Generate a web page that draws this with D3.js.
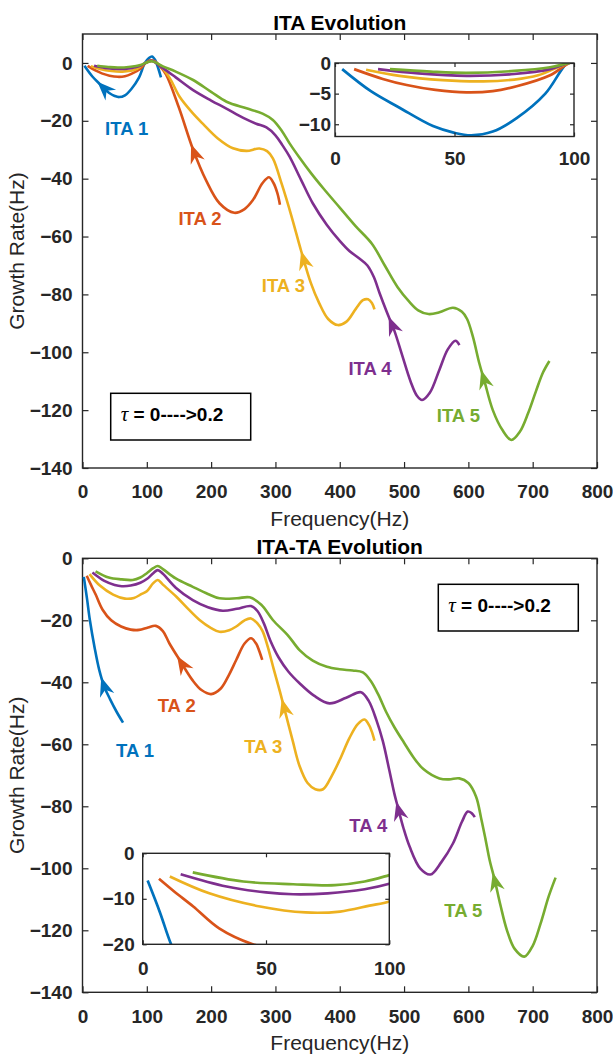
<!DOCTYPE html>
<html>
<head>
<meta charset="utf-8">
<script src="https://cdn.jsdelivr.net/npm/d3@7/dist/d3.min.js"></script>
<style>
body { margin: 0; background: #fff; }
svg { display: block; font-family: "Liberation Sans", Arial, Helvetica, sans-serif; }
</style>
</head>
<body>
<div id="chart"></div>
<script>
// MATLAB default line colours
var colors = ["#0072BD", "#D95319", "#EDB120", "#7E2F8E", "#77AC30"];

var freqTicks = [0, 100, 200, 300, 400, 500, 600, 700, 800];
var rateTicks = [0, -20, -40, -60, -80, -100, -120, -140];
var insetFreqTicks = [0, 50, 100];
var itaInsetTicks = [0, -5, -10];
var taInsetTicks = [0, -10, -20];

var itaNames = ["ITA 1", "ITA 2", "ITA 3", "ITA 4", "ITA 5"];
var taNames = ["TA 1", "TA 2", "TA 3", "TA 4", "TA 5"];
var tauText = " = 0---->0.2";

// frequency where each arrow head sits
var itaArrowX = [23, 169, 340, 476, 620];
var taArrowX = [29, 147, 310, 488, 638];

// ITA evolution, [frequency, growth rate]
var ita1 = [[3,-1],[15,-4.6],[27,-7.3],[41,-10.3],[50,-11.4],[57,-11.8],[66,-11.2],[76,-9],[88,-5],[97,0],[103,1.6],[108,2.2],[113,1],[118,-2],[122,-5]];
var ita2 = [[8,-1],[20,-2.6],[30,-3.6],[42,-4.4],[55,-4.8],[66,-4.6],[76,-3.8],[90,-2],[98,0],[106,0.9],[112,0.6],[120,-1],[130,-4],[150,-15.5],[172,-30],[192,-40.5],[213,-48.5],[236,-51.8],[252,-50.5],[265,-47.4],[280,-41.5],[290,-39.5],[297,-41.5],[303,-45],[307,-49]];
var ita3 = [[13,-1.1],[27,-2.1],[45,-2.8],[62,-3],[75,-2.7],[85,-2],[98,0],[108,0.7],[120,-0.8],[135,-5],[151,-11.7],[170,-17],[187,-21],[210,-26],[234,-29.5],[255,-30.4],[275,-29.6],[287,-30.5],[296,-33],[310,-42],[325,-53],[340,-65],[355,-76],[368,-83],[382,-88.5],[397,-90.6],[410,-89.5],[425,-85],[436,-82],[444,-81.7],[450,-83],[454,-85.2]];
var ita4 = [[18,-1],[35,-1.7],[55,-2.1],[75,-1.8],[90,-1],[98,0],[108,0.7],[125,-1.8],[145,-5],[172,-9.4],[200,-13],[223,-15.7],[250,-19],[270,-21],[286,-22.3],[300,-25],[311,-28.5],[322,-32.4],[340,-40.5],[358,-48.5],[380,-56],[400,-61.5],[415,-65],[430,-67.5],[443,-70],[453,-74],[462,-79.6],[473,-86],[485,-92.6],[497,-101],[510,-110],[520,-115],[528,-116.5],[540,-114],[555,-106],[568,-99],[580,-96],[586,-97.5]];
var ita5 = [[23,-1],[40,-1.4],[55,-1.6],[75,-1.3],[90,-0.7],[98,0],[108,0.6],[125,-1.2],[145,-3],[172,-5.9],[200,-10],[224,-13.4],[255,-15.7],[280,-17.5],[296,-19.7],[310,-23.5],[322,-27.8],[337,-32.6],[355,-38],[375,-43.5],[400,-50],[425,-56.5],[450,-62.5],[470,-70],[490,-77.5],[508,-82.5],[522,-85.5],[538,-86.8],[555,-86.2],[576,-84.6],[590,-86],[598,-88.5],[607,-94.6],[617,-103.8],[625,-110],[638,-120],[653,-126.9],[667,-130.3],[680,-127.5],[693,-121],[705,-113.5],[716,-107],[726,-103]];

// ITA-TA evolution, [frequency, growth rate]
var ta1 = [[2,-6],[7,-13],[11.5,-20],[19,-29],[26,-36],[34,-41.5],[43,-45.5],[53,-49.5],[63,-53]];
var ta2 = [[6.6,-5.6],[13,-8.5],[20.5,-11.7],[31,-16.5],[44.6,-20],[60,-22],[75,-23],[88,-23.1],[102,-22.3],[114,-21.8],[125,-23.5],[135,-27.4],[151,-32.8],[171,-39.3],[185,-42.5],[200,-43.8],[215,-42],[228,-37.5],[239,-32.8],[252,-27.5],[262,-25.8],[270,-27.5],[275,-30],[279.5,-32.8]];
var ta3 = [[11,-5.1],[27,-8.8],[47.6,-11.7],[66,-13],[80,-12.8],[92,-11.5],[100,-10.6],[110,-8],[117,-7],[125,-8.5],[146,-12.4],[165,-16.5],[182,-19.9],[200,-22.5],[213,-23.7],[228,-23.2],[239,-22],[252,-20],[262,-19.4],[272,-21],[280,-23.5],[288,-28.5],[297,-35.5],[307,-43],[317,-51],[327,-59],[337.5,-67],[350,-72.5],[362,-74.5],[374,-74.5],[388,-70],[400,-65],[415,-58],[428,-53.5],[438.6,-52],[446,-54],[450,-56],[454,-58.8]];
var ta4 = [[15.4,-4.6],[34,-7.3],[50,-8.6],[61,-9],[75,-8.8],[90,-7.9],[100,-6.7],[110,-4.8],[117,-3.8],[125,-5],[145,-9.5],[171.5,-13.5],[195,-15.8],[218,-16.9],[240,-16.3],[262,-15.4],[272,-17],[282,-21],[292,-26.5],[305,-32],[320,-36.5],[337.5,-40.3],[360,-44.3],[384,-46.8],[410,-45],[433,-43.2],[445,-46],[457,-52.2],[467,-59],[477,-68.3],[485,-76],[490,-80],[499,-87],[508.6,-93],[525,-100],[541,-102],[558,-98],[576,-92],[590,-85],[599,-81.7],[605,-82.2],[610,-83.5]];
var ta5 = [[20.3,-4.2],[40.8,-6.2],[61,-6.8],[78,-7],[90,-6.2],[100,-4.8],[110,-3.2],[117,-2.5],[125,-3.5],[145,-6.5],[171.5,-9.2],[195,-11.5],[213,-12.9],[240,-12.9],[260,-12.6],[278,-15],[296,-19.9],[320,-25],[337.5,-29.6],[358,-33],[380,-35],[400,-35.8],[420,-36.2],[436,-36.8],[448,-39.5],[460,-44],[472,-49.5],[485,-54.5],[500,-59.5],[514,-64],[530,-68],[555,-71],[570,-71.3],[586,-71],[600,-72.5],[612,-76.9],[620,-84],[627,-91],[633,-97.3],[641,-103.8],[650,-112],[660,-120],[672,-126],[687,-128.5],[700,-125],[712,-118],[725,-109],[735.6,-103]];

var W = 613, H = 1057;
var svg = d3.select("#chart").append("svg").attr("width", W).attr("height", H);

function styleAxis(sel, size) {
    sel.select(".domain").remove();
    sel.selectAll(".tick line").attr("stroke", "#262626").attr("stroke-width", 1.2);
    sel.selectAll(".tick text")
        .attr("fill", "#262626")
        .attr("font-size", size)
        .attr("font-weight", "bold")
        .attr("font-family", "'Liberation Sans', Arial, sans-serif");
}

function addArrow(g, node, tipPx, color) {
    var total = node.getTotalLength();
    var best = 0, bestD = Infinity;
    for (var l = 0; l <= total; l += 0.5) {
        var pt = node.getPointAtLength(l);
        var d = Math.abs(pt.x - tipPx);
        if (d < bestD) { bestD = d; best = l; }
    }
    var p = node.getPointAtLength(best);
    var q = node.getPointAtLength(Math.min(total, best + 10));
    var ang = Math.atan2(p.y - q.y, p.x - q.x) * 180 / Math.PI;
    g.append("path")
        .attr("d", "M0,0L-19,-7.5L-13,0L-19,7.5Z")
        .attr("fill", color)
        .attr("transform", "translate(" + p.x + "," + p.y + ") rotate(" + ang + ")");
}

function drawInset(g, ins, series, id) {
    var x = d3.scaleLinear().domain([0, 100]).range([ins.left, ins.right]);
    var y = d3.scaleLinear().domain(ins.yDomain).range([ins.bottom, ins.top]);
    var w = ins.right - ins.left, h = ins.bottom - ins.top;

    g.append("rect").attr("x", ins.left).attr("y", ins.top).attr("width", w).attr("height", h).attr("fill", "#fff");
    g.append("clipPath").attr("id", id).append("rect")
        .attr("x", ins.left).attr("y", ins.top).attr("width", w).attr("height", h);

    var line = d3.line().x(d => x(d[0])).y(d => y(d[1])).curve(d3.curveCatmullRom.alpha(0.5));
    g.append("g").attr("clip-path", "url(#" + id + ")")
        .selectAll("path").data(series).enter().append("path")
        .attr("d", line).attr("fill", "none")
        .attr("stroke", (d, i) => colors[i]).attr("stroke-width", 2.7);

    g.append("g").attr("transform", "translate(0," + ins.bottom + ")")
        .call(d3.axisBottom(x).tickValues(insetFreqTicks).tickSize(-4).tickPadding(ins.xPad))
        .call(s => styleAxis(s, 19));
    g.append("g").attr("transform", "translate(" + ins.left + ",0)")
        .call(d3.axisLeft(y).tickValues(ins.ticks).tickSize(-4).tickPadding(ins.yPad))
        .call(s => styleAxis(s, 19));
    g.append("g").attr("transform", "translate(0," + ins.top + ")")
        .call(d3.axisTop(x).tickValues(insetFreqTicks).tickSize(-4).tickFormat(""))
        .call(s => styleAxis(s, 19));
    g.append("g").attr("transform", "translate(" + ins.right + ",0)")
        .call(d3.axisRight(y).tickValues(ins.ticks).tickSize(-4).tickFormat(""))
        .call(s => styleAxis(s, 19));
    g.append("rect").attr("x", ins.left).attr("y", ins.top).attr("width", w).attr("height", h)
        .attr("fill", "none").attr("stroke", "#262626").attr("stroke-width", 1.4);
}

function drawPanel(p) {
    var x = d3.scaleLinear().domain([0, 800]).range([82.5, 597]);
    var y = d3.scaleLinear().domain(p.yDomain).range([p.bottom, p.top]);
    var g = svg.append("g");

    g.append("g").attr("transform", "translate(0," + p.bottom + ")")
        .call(d3.axisBottom(x).tickValues(freqTicks).tickSize(-6).tickPadding(17))
        .call(s => styleAxis(s, 19));
    g.append("g").attr("transform", "translate(82.5,0)")
        .call(d3.axisLeft(y).tickValues(rateTicks).tickSize(-6).tickPadding(10))
        .call(s => styleAxis(s, 19));
    g.append("g").attr("transform", "translate(0," + p.top + ")")
        .call(d3.axisTop(x).tickValues(freqTicks).tickSize(-6).tickFormat(""))
        .call(s => styleAxis(s, 19));
    g.append("g").attr("transform", "translate(597,0)")
        .call(d3.axisRight(y).tickValues(rateTicks).tickSize(-6).tickFormat(""))
        .call(s => styleAxis(s, 19));
    g.append("rect").attr("x", 82.5).attr("y", p.top).attr("width", 597 - 82.5).attr("height", p.bottom - p.top)
        .attr("fill", "none").attr("stroke", "#262626").attr("stroke-width", 1.4);

    var line = d3.line().x(d => x(d[0])).y(d => y(d[1])).curve(d3.curveCatmullRom.alpha(0.5));
    var curves = g.append("g").selectAll("path").data(p.series).enter().append("path")
        .attr("d", line).attr("fill", "none")
        .attr("stroke", (d, i) => colors[i]).attr("stroke-width", 2.6);

    curves.each(function(d, i) {
        addArrow(g, this, x(p.arrowX[i]), colors[i]);
    });

    g.selectAll("text.lab").data(p.names).enter().append("text")
        .attr("class", "lab")
        .attr("x", (d, i) => x(p.labelAt[i][0]))
        .attr("y", (d, i) => y(p.labelAt[i][1]))
        .attr("dy", "0.36em")
        .attr("text-anchor", "middle")
        .attr("font-size", 18.5).attr("font-weight", "bold")
        .attr("fill", (d, i) => colors[i])
        .text(d => d);

    // tau annotation box
    var b = p.tauBox;
    g.append("rect").attr("x", b[0]).attr("y", b[1]).attr("width", b[2]).attr("height", b[3])
        .attr("fill", "#fff").attr("stroke", "#000").attr("stroke-width", 1.5);
    var t = g.append("text").attr("x", b[0] + 10).attr("y", b[1] + 28)
        .attr("font-size", 19).attr("font-weight", "bold").attr("fill", "#000");
    t.append("tspan").attr("font-family", "'Liberation Serif', 'DejaVu Serif', serif")
        .attr("font-style", "italic").attr("font-weight", "normal").attr("font-size", 21).text("τ");
    t.append("tspan").text(tauText);

    drawInset(g, p.inset, p.series, p.clipId);

    g.append("text").attr("x", (82.5 + 597) / 2).attr("y", p.top - 4)
        .attr("text-anchor", "middle").attr("font-size", 21).attr("font-weight", "bold")
        .attr("fill", "#000").text(p.title);
    g.append("text").attr("x", (82.5 + 597) / 2).attr("y", p.bottom + 58)
        .attr("text-anchor", "middle").attr("font-size", 21).attr("fill", "#262626")
        .text("Frequency(Hz)");
    g.append("text").attr("transform", "translate(24," + (p.top + p.bottom) / 2 + ") rotate(-90)")
        .attr("text-anchor", "middle").attr("font-size", 21).attr("fill", "#262626")
        .text("Growth Rate(Hz)");
}

drawPanel({
    title: "ITA Evolution",
    top: 34, bottom: 468, yDomain: [-140, 10],
    series: [ita1, ita2, ita3, ita4, ita5],
    names: itaNames,
    arrowX: itaArrowX,
    labelAt: [[68.7, -22.6], [182.7, -53.7], [312.3, -76.8], [447, -105.5], [584.4, -121.7]],
    tauBox: [110.7, 393.3, 140, 46.7],
    clipId: "clipIta",
    inset: { left: 335, right: 574, top: 63, bottom: 136.5, yDomain: [-12, 0], ticks: itaInsetTicks, xPad: 15, yPad: 4 }
});

drawPanel({
    title: "ITA-TA Evolution",
    top: 558.3, bottom: 992.3, yDomain: [-140, 0],
    series: [ta1, ta2, ta3, ta4, ta5],
    names: taNames,
    arrowX: taArrowX,
    labelAt: [[81.6, -61.8], [146.5, -47.3], [281.1, -60.8], [444.4, -86], [592.1, -113.5]],
    tauBox: [438.3, 584.3, 140, 46.7],
    clipId: "clipTa",
    inset: { left: 142.7, right: 389.3, top: 853.3, bottom: 944.3, yDomain: [-20, 0], ticks: taInsetTicks, xPad: 17, yPad: 8 }
});
</script>
</body>
</html>
